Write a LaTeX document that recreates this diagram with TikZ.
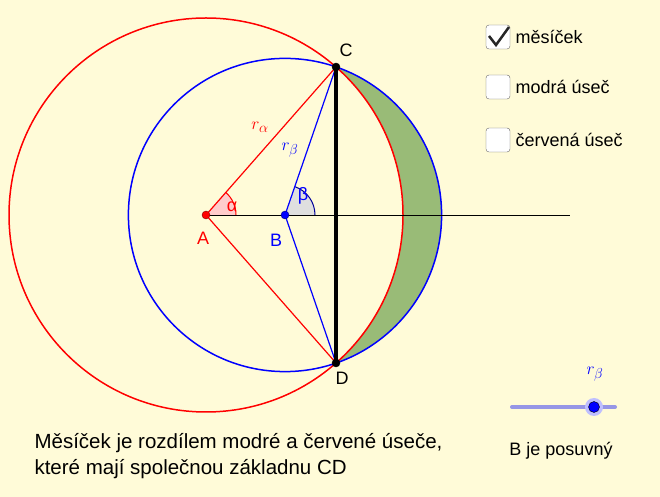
\documentclass[tikz,border=0pt]{standalone}
\usepackage{fontspec}
\setmainfont{Liberation Sans}
\definecolor{bgc}{RGB}{255,251,216}
\definecolor{lune}{RGB}{153,187,119}
\definecolor{slid}{RGB}{150,150,230}
\begin{document}
\begin{tikzpicture}[x=1pt,y=1pt,
  pt/.style={circle,inner sep=0pt,minimum size=8pt,draw=#1!50!black,fill=#1},
  lbl/.style={font=\fontsize{18}{21}\selectfont},
  big/.style={font=\fontsize{20.5}{24}\selectfont},
  mth/.style={font=\fontsize{19}{22}\selectfont},
  cbox/.style={draw=gray!80!black,fill=white,rounded corners=3pt,minimum size=24pt,inner sep=0pt}]
\fill[bgc] (0,0) rectangle (660,497);
\useasboundingbox (0,0) rectangle (660,497);
\coordinate (A) at (206,282);
\coordinate (B) at (285,282);
\coordinate (C) at (336,430);
\coordinate (D) at (336,134);
% lune
\fill[lune] (C) arc[start angle=70.97,end angle=-70.97,radius=156.6] arc[start angle=-48.7,end angle=48.7,radius=197];
% angles
\fill[red!20] (A) -- ++(30,0) arc[start angle=0,end angle=48.7,radius=30] -- cycle;
\draw[red,line width=1pt] (A) ++(30,0) arc[start angle=0,end angle=48.7,radius=30];
\fill[gray!25] (B) -- ++(30,0) arc[start angle=0,end angle=70.97,radius=30] -- cycle;
\draw[blue!60!black,line width=1pt] (B) ++(30,0) arc[start angle=0,end angle=70.97,radius=30];
\draw[red,line width=1.5pt] (A) circle[radius=197];
\draw[blue,line width=1.5pt] (B) circle[radius=156.6];
\coordinate (E) at (570,282);
\draw[black,line width=0.8pt] (A) -- (E);
\draw[red,line width=1.2pt] (A) -- (C) (A) -- (D);
\draw[blue,line width=1.2pt] (B) -- (C) (B) -- (D);
\draw[black,line width=3.5pt] (C) -- (D);
\node[pt=red] (pA) at (A) {};
\node[pt=blue] (pB) at (B) {};
\node[pt=black] (pC) at (C) {};
\node[pt=black] (pD) at (D) {};
\node[lbl,red] (lA) at (203,259) {A};
\node[lbl,blue] (lB) at (276,257) {B};
\node[lbl] (lC) at (346,447) {C};
\node[lbl] (lD) at (342,119) {D};
\node[lbl,red] (la) at (232,290) {α};
\node[lbl,blue] (lb) at (303,301) {β};
\node[red,mth] (ra) at (260,370) {$r_\alpha$};
\node[blue,mth] (rb) at (290,347) {$r_\beta$};
% checkboxes
\node[cbox] (c1) at (498,460) {};
\draw[line width=2.5pt,gray!30!black] (489,461) -- (496,452) -- (509,470);
\node[cbox] (c2) at (498,410) {};
\node[cbox] (c3) at (498,357) {};
\node[lbl,anchor=west] (t1) at (512,460) {měsíček};
\node[lbl,anchor=west] (t2) at (512,410) {modrá úseč};
\node[lbl,anchor=west] (t3) at (512,357) {červená úseč};
% slider
\coordinate (s1) at (512,90);
\coordinate (s2) at (615,90);
\draw[line width=4pt,slid,line cap=round] (s1) -- (s2);
\node[circle,fill=blue!25,minimum size=18pt,inner sep=0pt] (kr) at (594,90) {};
\node[circle,fill=blue,draw=black,minimum size=11pt,inner sep=0pt] (k) at (594,90) {};
\node[blue,mth] (rs) at (595,123) {$r_\beta$};
\node[lbl] (bp) at (561,46) {B je posuvný};
\node[big,anchor=west] (m1) at (31,54) {Měsíček je rozdílem modré a červené úseče,};
\node[big,anchor=west] (m2) at (31,28) {které mají společnou základnu CD};
\end{tikzpicture}
\end{document}
